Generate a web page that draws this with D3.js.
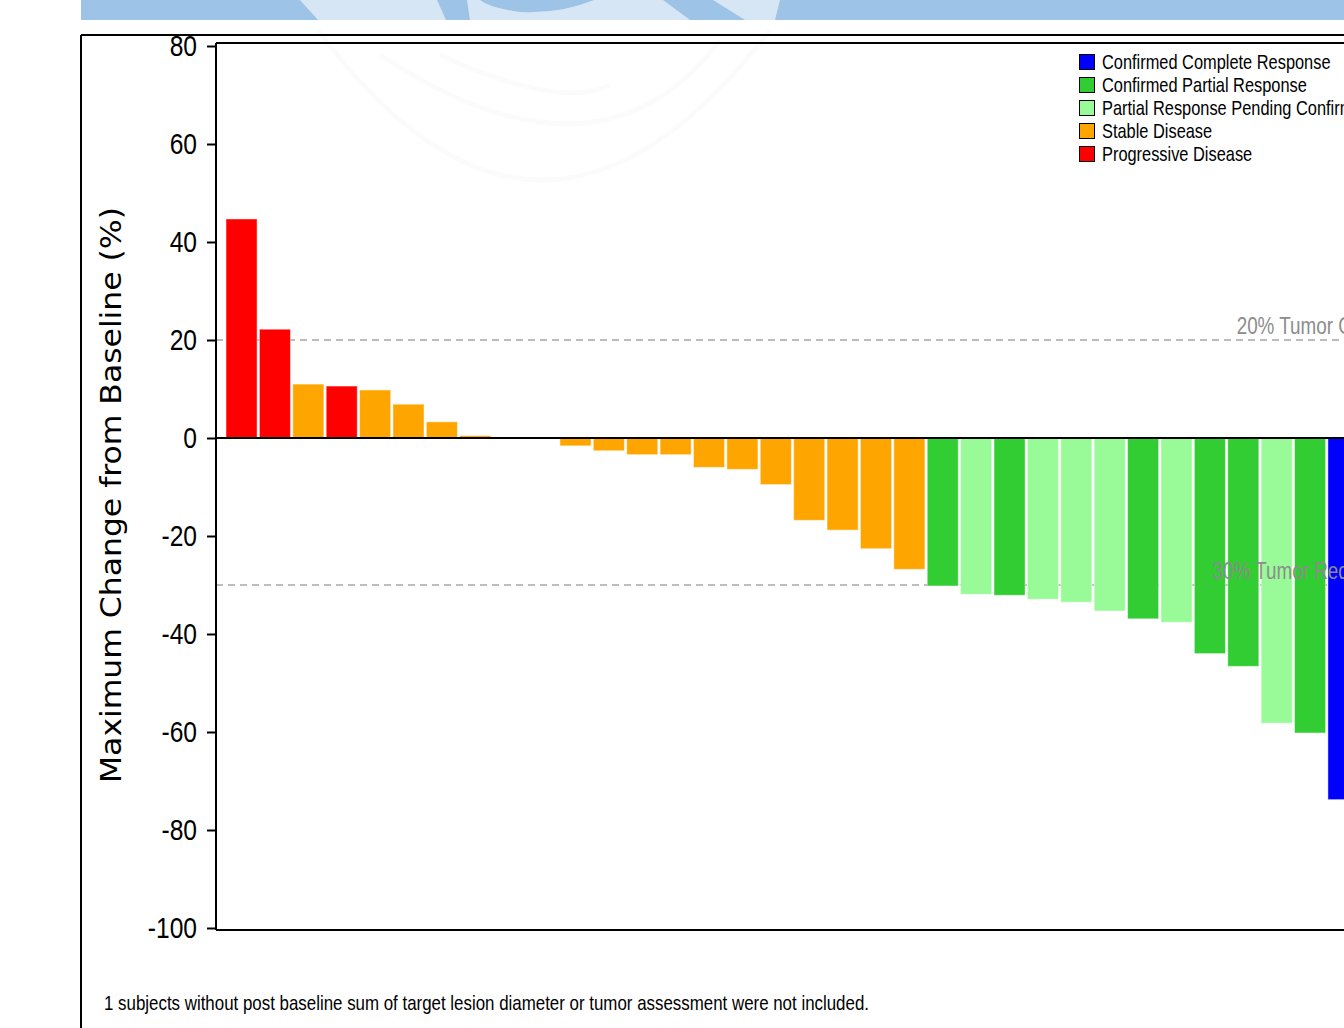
<!DOCTYPE html>
<html>
<head>
<meta charset="utf-8">
<script src="https://cdn.jsdelivr.net/npm/d3@7"></script>
<style>
  html, body { margin: 0; padding: 0; background: #fff; overflow: hidden; }
  svg { display: block; }
  .narrow { font-family: "Liberation Sans", Arial, sans-serif; }
</style>
</head>
<body>
<svg id="chart" width="1344" height="1028"></svg>
<script>
// Best percentage change in target lesion size, one bar per subject (sorted)
const changes = [44.7, 22.2, 11.0, 10.6, 9.8, 6.9, 3.3, 0.5, 0, 0,
  -1.6, -2.6, -3.4, -3.4, -6.0, -6.4, -9.5, -16.8, -18.8, -22.6,
  -26.8, -30.2, -31.9, -32.1, -32.9, -33.5, -35.3, -36.9, -37.6, -44.0,
  -46.6, -58.2, -60.2, -73.8];
// Best overall response for each subject
const responses = ["PD", "PD", "SD", "PD", "SD", "SD", "SD", "SD", "SD", "SD",
  "SD", "SD", "SD", "SD", "SD", "SD", "SD", "SD", "SD", "SD",
  "SD", "CPR", "PRP", "CPR", "PRP", "PRP", "PRP", "CPR", "PRP", "CPR",
  "CPR", "PRP", "CPR", "CR"];
const subjects = changes.map((_, i) => "S" + String(i + 1).padStart(2, "0"));

const responseCodes = ["CR", "CPR", "PRP", "SD", "PD"];
const responseLabels = ["Confirmed Complete Response", "Confirmed Partial Response",
  "Partial Response Pending Confirmation", "Stable Disease", "Progressive Disease"];
const responseColors = ["#0000ff", "#32cd32", "#98fb98", "#ffa500", "#ff0000"];

const yTicks = [80, 60, 40, 20, 0, -20, -40, -60, -80, -100];
const refLines = [
  { value: 20, label: "20% Tumor Growth" },
  { value: -30, label: "30% Tumor Reduction" }
];
const footnote = "1 subjects without post baseline sum of target lesion diameter or tumor assessment were not included.";

// Condensed look: regular sans squeezed horizontally
const SQUEEZE = 0.82;

const svg = d3.select("#chart");
const plotLeft = 216, plotRight = 1410, plotTop = 43, plotBottom = 930;

const color = d3.scaleOrdinal().domain(responseCodes).range(responseColors);
const x = d3.scaleBand().domain(subjects).range([plotLeft, 1369])
  .paddingInner(0.07).paddingOuter(0.3);
const y = d3.scaleLinear().domain([-100, 80]).range([928, 46]);

// Header band with faint logo shapes
const band = svg.append("g");
band.append("clipPath").attr("id", "bandClip")
  .append("rect").attr("x", 81).attr("y", 0).attr("width", 1263).attr("height", 20);
band.append("rect").attr("x", 81).attr("y", 0).attr("width", 1263).attr("height", 20).attr("fill", "#9dc3e6");
const logo = band.append("g").attr("clip-path", "url(#bandClip)");
logo.append("path").attr("fill", "#d6e6f5")
  .attr("d", "M300,0 L437,0 L446,20 L318,20 Z");
logo.append("path").attr("fill", "#d6e6f5")
  .attr("d", "M467,0 L663,0 L690,20 L470,20 Z");
logo.append("path").attr("fill", "#d6e6f5")
  .attr("d", "M713,0 L780,0 L775,20 L745,20 Z");
logo.append("path").attr("fill", "#9dc3e6")
  .attr("d", "M480,0 L594,0 Q560,14 520,12 Q490,8 480,0 Z");

// Outer frame
svg.append("line").attr("x1", 81).attr("x2", 81).attr("y1", 35).attr("y2", 1028)
  .attr("stroke", "#000").attr("stroke-width", 2);
svg.append("line").attr("x1", 81).attr("x2", 1344).attr("y1", 35).attr("y2", 35)
  .attr("stroke", "#000").attr("stroke-width", 2);

// Plot frame
svg.append("line").attr("x1", plotLeft).attr("x2", plotRight).attr("y1", plotTop).attr("y2", plotTop)
  .attr("stroke", "#000").attr("stroke-width", 2);
svg.append("line").attr("x1", plotLeft).attr("x2", plotRight).attr("y1", plotBottom).attr("y2", plotBottom)
  .attr("stroke", "#000").attr("stroke-width", 2);

// Reference lines (drawn beneath bars)
svg.append("g").selectAll("line").data(refLines).join("line")
  .attr("x1", plotLeft).attr("x2", plotRight)
  .attr("y1", d => y(d.value)).attr("y2", d => y(d.value))
  .attr("stroke", "#bdbdbd").attr("stroke-width", 2).attr("stroke-dasharray", "7,5");

// Bars
svg.append("g").selectAll("rect").data(changes).join("rect")
  .attr("x", (d, i) => x(subjects[i]))
  .attr("width", x.bandwidth())
  .attr("y", d => y(Math.max(0, d)))
  .attr("height", d => Math.abs(y(d) - y(0)))
  .attr("fill", (d, i) => color(responses[i]))
  .attr("stroke", "rgba(255,255,255,0.45)").attr("stroke-width", 1);

// Zero line
svg.append("line").attr("x1", plotLeft).attr("x2", plotRight).attr("y1", y(0)).attr("y2", y(0))
  .attr("stroke", "#000").attr("stroke-width", 2);

// Reference line labels, right-aligned at the plot edge
svg.append("g").selectAll("text").data(refLines).join("text")
  .attr("class", "narrow")
  .attr("transform", d => `translate(1399,${y(d.value) - 6}) scale(${SQUEEZE},1)`)
  .attr("text-anchor", "end")
  .attr("font-size", 23).attr("fill", "#8c8c8c")
  .text(d => d.label);

// Y axis
const yAxis = svg.append("g").attr("transform", `translate(${plotLeft},0)`)
  .call(d3.axisLeft(y).tickValues(yTicks).tickFormat(d => String(d))
    .tickSize(9).tickSizeOuter(0));
yAxis.attr("font-family", null).attr("font-size", null);
yAxis.select(".domain").attr("d", `M0,${plotTop}V${plotBottom}`).attr("stroke-width", 2);
yAxis.selectAll(".tick line").attr("stroke-width", 2);
yAxis.selectAll(".tick text")
  .attr("class", "narrow").attr("font-size", 30).attr("fill", "#000")
  .attr("x", -19 / SQUEEZE)
  .attr("transform", `scale(${SQUEEZE},1)`);

svg.append("text")
  .attr("transform", "translate(121,495) rotate(-90)")
  .attr("text-anchor", "middle")
  .attr("font-family", "'DejaVu Sans', Verdana, sans-serif")
  .attr("font-size", 28)
  .attr("textLength", 576).attr("lengthAdjust", "spacingAndGlyphs")
  .text("Maximum Change from Baseline (%)");

// Legend
const legend = svg.append("g").attr("transform", "translate(1079,62)");
const rows = legend.selectAll("g").data(responseLabels).join("g")
  .attr("transform", (d, i) => `translate(0,${i * 23})`);
rows.append("rect").attr("x", 0.5).attr("y", -7.5).attr("width", 15).attr("height", 15)
  .attr("fill", (d, i) => responseColors[i]).attr("stroke", "#000").attr("stroke-width", 1);
rows.append("text").attr("class", "narrow")
  .attr("transform", `translate(23,7) scale(${SQUEEZE},1)`)
  .attr("font-size", 20).attr("fill", "#000").text(d => d);

// Footnote
svg.append("text").attr("class", "narrow")
  .attr("x", 104).attr("y", 1010)
  .attr("font-size", 21)
  .attr("textLength", 765).attr("lengthAdjust", "spacingAndGlyphs")
  .text(footnote);

// Faint watermark arcs over the plot
const wm = svg.append("g").attr("fill", "none").attr("stroke", "#000").attr("stroke-opacity", 0.015).attr("stroke-width", 5);
wm.append("path").attr("d", "M318,30 Q540,330 770,30");
wm.append("path").attr("d", "M380,55 Q600,200 720,40");
wm.append("path").attr("d", "M440,55 Q560,110 610,85");
</script>
</body>
</html>
